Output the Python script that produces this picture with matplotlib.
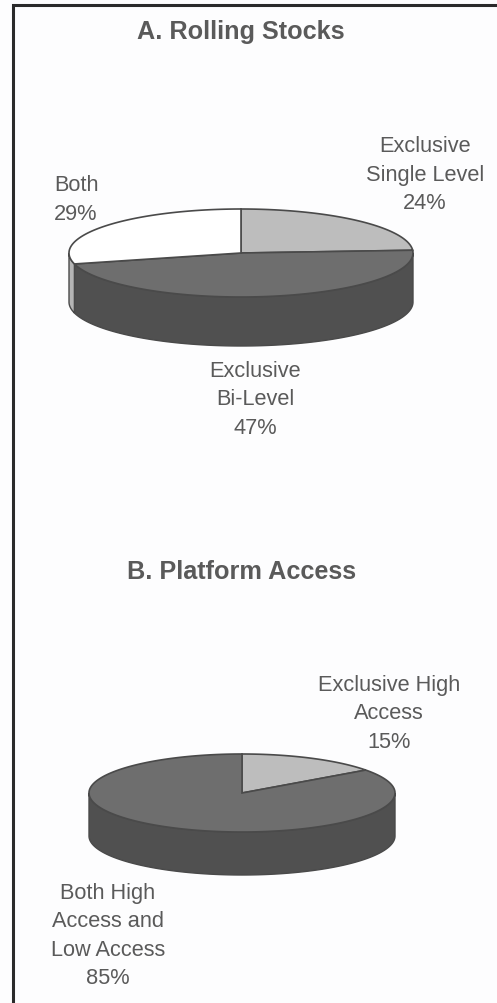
import numpy as np
import matplotlib
matplotlib.use('Agg')
import matplotlib.pyplot as plt
from matplotlib.patches import Polygon

plt.rcParams['font.family'] = ['Liberation Sans', 'DejaVu Sans']

# Shares in percent, clockwise from twelve o'clock
rolling_labels = ['Exclusive\nSingle Level\n24%', 'Exclusive\nBi-Level\n47%', 'Both\n29%']
rolling_shares = [24, 47, 29]
rolling_colors = ['#bdbdbd', '#6e6e6e', '#ffffff']
rolling_sides = ['#8a8a8a', '#505050', '#b5b5b5']

access_labels = ['Exclusive High\nAccess\n15%', 'Both High\nAccess and\nLow Access\n85%']
access_shares = [15, 85]
access_colors = ['#bdbdbd', '#6e6e6e']
access_sides = ['#8a8a8a', '#505050']

EDGE = '#4a4a4a'
TEXT = '#5a5a5a'


def ellipse_pts(cx, cy, rx, ry, t0, t1):
    # t runs clockwise from the top, y axis points down
    t = np.radians(np.linspace(t0, t1, max(int(abs(t1 - t0)) * 2, 2)))
    return np.column_stack([cx + rx * np.sin(t), cy - ry * np.cos(t)])


def pie3d(ax, cx, cy, rx, ry, depth, shares, colors, sides):
    edges = np.cumsum([0] + shares) * 3.6
    # side wall only shows on the lower half of the rim (90..270 deg)
    for t0, t1, side in zip(edges[:-1], edges[1:], sides):
        a, b = max(t0, 90), min(t1, 270)
        if b <= a:
            continue
        rim = ellipse_pts(cx, cy, rx, ry, a, b)
        low = rim[::-1] + [0, depth]
        ax.add_patch(Polygon(np.vstack([rim, low]), closed=True, fc=side, ec=EDGE, lw=1.0))
    for t0, t1, col in zip(edges[:-1], edges[1:], colors):
        rim = ellipse_pts(cx, cy, rx, ry, t0, t1)
        ax.add_patch(Polygon(np.vstack([[cx, cy], rim]), closed=True, fc=col, ec=EDGE, lw=1.2))


fig = plt.figure(figsize=(4.97, 10.04), dpi=100, facecolor='#fdfdfe')
ax = fig.add_axes([0, 0, 1, 1])
ax.set_xlim(0, 497)
ax.set_ylim(1004, 0)
ax.axis('off')

# frame runs off the right and bottom edges
ax.plot([497, 13, 13], [5.5, 5.5, 1004], color='#2a2a2a', lw=2.2, solid_joinstyle='miter')

pie3d(ax, 241, 254, 172, 44, 49, rolling_shares, rolling_colors, rolling_sides)
pie3d(ax, 242, 794, 153, 39, 43, access_shares, access_colors, access_sides)

title_kw = dict(ha='center', va='center', fontsize=18.2, fontweight='bold', color=TEXT)
ax.text(241, 32, 'A. Rolling Stocks', **title_kw)
ax.text(242, 572, 'B. Platform Access', **title_kw)

label_kw = dict(ha='center', va='center', fontsize=15.7, color=TEXT, linespacing=1.45)
ax.text(425, 175, rolling_labels[0], **label_kw)
ax.text(255, 400, rolling_labels[1], **label_kw)
ax.text(76, 200, rolling_labels[2], **label_kw)
ax.text(389, 714, access_labels[0], **label_kw)
ax.text(108, 936, access_labels[1], **label_kw)

fig.savefig('out.png', dpi=100)
